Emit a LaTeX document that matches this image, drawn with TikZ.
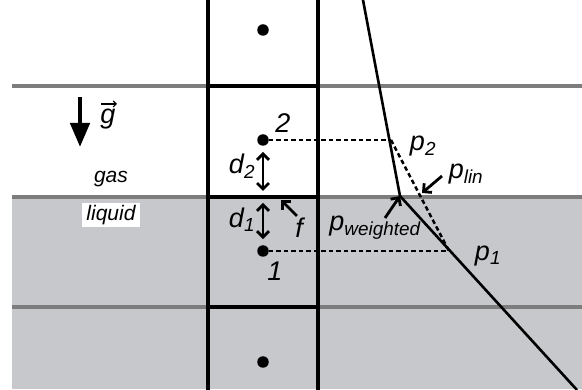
\documentclass[tikz,border=0pt]{standalone}
\usepackage{fontspec}
\setmainfont{Liberation Sans}
\usetikzlibrary{arrows.meta}
\definecolor{liq}{RGB}{198,200,203}
\definecolor{grid}{RGB}{125,125,125}
\tikzset{
  gridline/.style={grid,line width=3.8pt},
  wall/.style={black,line width=4.4pt},
  prof/.style={black,line width=2.6pt},
  dashln/.style={black,line width=2.5pt,dash pattern=on 4.5pt off 3pt},
  pt/.style={circle,fill=black,inner sep=0pt,minimum size=11.5pt},
  lbl/.style={font=\fontsize{27}{29}\selectfont\itshape,inner sep=0pt},
  small/.style={font=\fontsize{21}{23}\selectfont\itshape,inner sep=0pt},
  chev/.style={line width=2.8pt,-{Straight Barb[length=6pt,width=12pt]}},
  dchev/.style={line width=2.8pt,{Straight Barb[length=6pt,width=12pt]}-{Straight Barb[length=6pt,width=12pt]}}
}
\begin{document}
\begin{tikzpicture}[x=1pt,y=-1pt]
\useasboundingbox (0,0) rectangle (582,390);
\fill[white] (0,0) rectangle (582,390);
\fill[liq] (12,197) rectangle (582,389);
% gray grid lines
\draw[gridline] (12,86) -- (582,86);
\draw[gridline] (12,197) -- (582,197);
\draw[gridline] (12,307) -- (582,307);
% column
\draw[wall] (208,0) -- (208,390);
\draw[wall] (318,0) -- (318,390);
\draw[wall] (208,86) -- (318,86);
\draw[wall] (208,197) -- (318,197);
\draw[wall] (208,307) -- (318,307);
% points
\node[pt] (c0) at (263,30) {};
\node[pt] (c2) at (263,140) {};
\node[pt] (c1) at (263,251) {};
\node[pt] (c3) at (263,362) {};
\coordinate (face) at (263,197);
% profile
\coordinate (top) at (363,0);
\coordinate (p2) at (391,140);
\coordinate (kink) at (400,196);
\coordinate (p1) at (449,251);
\coordinate (bot) at (577,390);
\draw[prof] (top) -- (kink) -- (bot);
\draw[dashln] (c2) -- (p2);
\draw[dashln] (c1) -- (p1);
\draw[dashln] (p2) -- (p1);
% distances
\draw[dchev] ([yshift=-6pt]c2.south) -- ([yshift=6pt]face);
\draw[dchev] ([yshift=-6pt]face) -- ([yshift=6pt]c1.north);
\node[lbl] (d2) at (242,166) {d\textsubscript{2}};
\node[lbl] (d1) at (242,220) {d\textsubscript{1}};
\node[lbl] (n2) at (283,123) {2};
\node[lbl] (n1) at (275,271) {1};
% f
\node[lbl] (f) at (299,228) {f};
\coordinate (fh) at (281,200);
\draw[chev] (297,216) -- (fh);
% p labels
\node[lbl] (lp2) at (423,146) {p\textsubscript{2}};
\node[lbl] (lp1) at (488,256) {p\textsubscript{1}};
\node[lbl] (lplin) at (466,174) {p\textsubscript{lin}};
\node[lbl] (lpw) at (375,228) {p\textsubscript{weighted}};
\coordinate (linpt) at (422,193);
\draw[chev] (442,176) -- (linpt);
\draw[chev] (385,218) -- (kink);
% gravity
\node (gt) at (80,97) {};
\node (gb) at (80,147) {};
\draw[line width=4.5pt,-{Triangle[length=24pt,width=19pt]}] (gt.center) -- (gb.center);
\node[lbl,anchor=base] (g) at (108,124) {g};
\draw[line width=1.1pt,-{Straight Barb[length=3pt,width=6pt]}] (101,104) -- (117,104);
% phases
\node[small,anchor=base] (gas) at (111,183) {gas};
\node[small,fill=white,inner xsep=4pt,inner ysep=2pt] (liquid) at (111,215) {liquid};
\end{tikzpicture}
\end{document}
